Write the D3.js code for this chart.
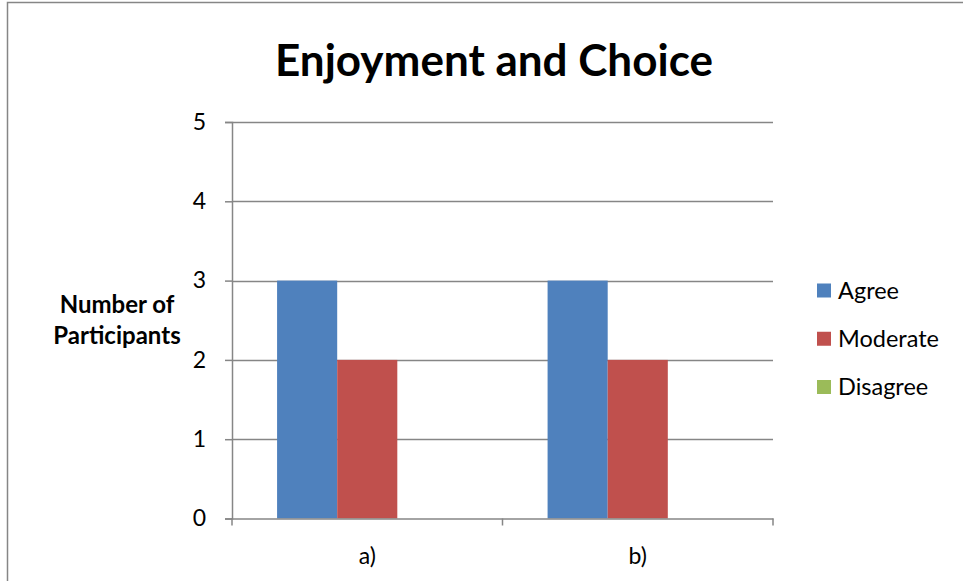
<!DOCTYPE html>
<html>
<head>
<meta charset="utf-8">
<script src="https://cdn.jsdelivr.net/npm/d3@7"></script>
<style>
  html, body { margin: 0; padding: 0; background: #fff; }
  svg { display: block; font-family: Lato, "Open Sans", sans-serif; }
</style>
</head>
<body>
<svg id="chart" width="963" height="581"></svg>
<script>
// Survey responses per question
const categories = ["a)", "b)"];
const seriesNames = ["Agree", "Moderate", "Disagree"];
const agreeValues = [3, 3];
const moderateValues = [2, 2];
const disagreeValues = [0, 0];
const yTicks = [0, 1, 2, 3, 4, 5];
const titleText = "Enjoyment and Choice";
const yTitleLines = ["Number of", "Participants"];

const seriesValues = [agreeValues, moderateValues, disagreeValues];
const colors = ["#4F81BD", "#C0504D", "#9BBB59"];

const svg = d3.select("#chart");

// Outer chart frame
svg.append("rect")
  .attr("x", 7.5).attr("y", 2.5)
  .attr("width", 980).attr("height", 600)
  .attr("fill", "#fff")
  .attr("stroke", "#868686").attr("stroke-width", 1.5);

const plot = { left: 232, right: 773, top: 122, bottom: 518.5 };

const x0 = d3.scaleBand()
  .domain(categories)
  .range([plot.left, plot.right])
  .paddingInner(0).paddingOuter(0);

// Bars occupy 2/3 of each band (150% gap width)
const groupWidth = x0.bandwidth() / 1.5;
const x1 = d3.scaleBand()
  .domain(seriesNames)
  .range([0, groupWidth]);

const y = d3.scaleLinear().domain([0, 5]).range([plot.bottom, plot.top]);

// Horizontal gridlines
svg.append("g")
  .selectAll("line")
  .data(yTicks.filter(t => t > 0))
  .join("line")
  .attr("x1", plot.left).attr("x2", plot.right)
  .attr("y1", d => Math.round(y(d)) + 0.5).attr("y2", d => Math.round(y(d)) + 0.5)
  .attr("stroke", "#868686").attr("stroke-width", 1.5);

// Bars
const rows = [];
categories.forEach((c, i) => {
  seriesNames.forEach((s, j) => rows.push({ cat: c, series: s, value: seriesValues[j][i], color: colors[j] }));
});

svg.append("g")
  .selectAll("rect")
  .data(rows.filter(d => d.value > 0))
  .join("rect")
  .attr("x", d => x0(d.cat) + (x0.bandwidth() - groupWidth) / 2 + x1(d.series))
  .attr("width", x1.bandwidth())
  .attr("y", d => y(d.value))
  .attr("height", d => y(0) - y(d.value))
  .attr("fill", d => d.color);

// Y axis
const yAxis = svg.append("g")
  .attr("transform", `translate(${plot.left},0)`)
  .call(d3.axisLeft(y).tickValues(yTicks).tickFormat(d3.format("d")).tickSize(7).tickPadding(19));
yAxis.select(".domain").attr("stroke", "#868686").attr("stroke-width", 1.5);
yAxis.selectAll(".tick line").attr("stroke", "#868686").attr("stroke-width", 1.5);
yAxis.selectAll("text")
  .attr("font-family", "Lato, sans-serif")
  .attr("font-size", 23).attr("fill", "#000");

// X axis
const xAxis = svg.append("g")
  .attr("transform", `translate(0,${plot.bottom})`)
  .call(d3.axisBottom(x0).tickSize(0).tickPadding(29));
xAxis.select(".domain").attr("stroke", "#868686").attr("stroke-width", 1.5);
xAxis.selectAll("text")
  .attr("font-family", "Lato, sans-serif")
  .attr("font-size", 23).attr("fill", "#000");
// Category boundary ticks
xAxis.append("g")
  .selectAll("line")
  .data([...categories.map(c => x0(c)), plot.right])
  .join("line")
  .attr("x1", d => d).attr("x2", d => d)
  .attr("y1", 0).attr("y2", 7)
  .attr("stroke", "#868686").attr("stroke-width", 1.5);

// Title
svg.append("text")
  .attr("x", 494).attr("y", 76)
  .attr("text-anchor", "middle")
  .attr("font-weight", "bold")
  .attr("font-size", 44)
  .attr("fill", "#000")
  .text(titleText);

// Y axis title
svg.append("g")
  .selectAll("text")
  .data(yTitleLines)
  .join("text")
  .attr("x", 117)
  .attr("y", (d, i) => 313 + i * 31)
  .attr("text-anchor", "middle")
  .attr("font-weight", "bold")
  .attr("font-size", 24)
  .attr("fill", "#000")
  .text(d => d);

// Legend
const legend = svg.append("g")
  .selectAll("g")
  .data(seriesNames)
  .join("g")
  .attr("transform", (d, i) => `translate(817,${290.5 + i * 48.25})`);
legend.append("rect")
  .attr("x", 0).attr("y", -7)
  .attr("width", 14).attr("height", 14)
  .attr("fill", (d, i) => colors[i]);
legend.append("text")
  .attr("x", 21).attr("y", 0)
  .attr("dy", "0.35em")
  .attr("font-size", 23.5)
  .attr("fill", "#000")
  .text(d => d);
</script>
</body>
</html>
